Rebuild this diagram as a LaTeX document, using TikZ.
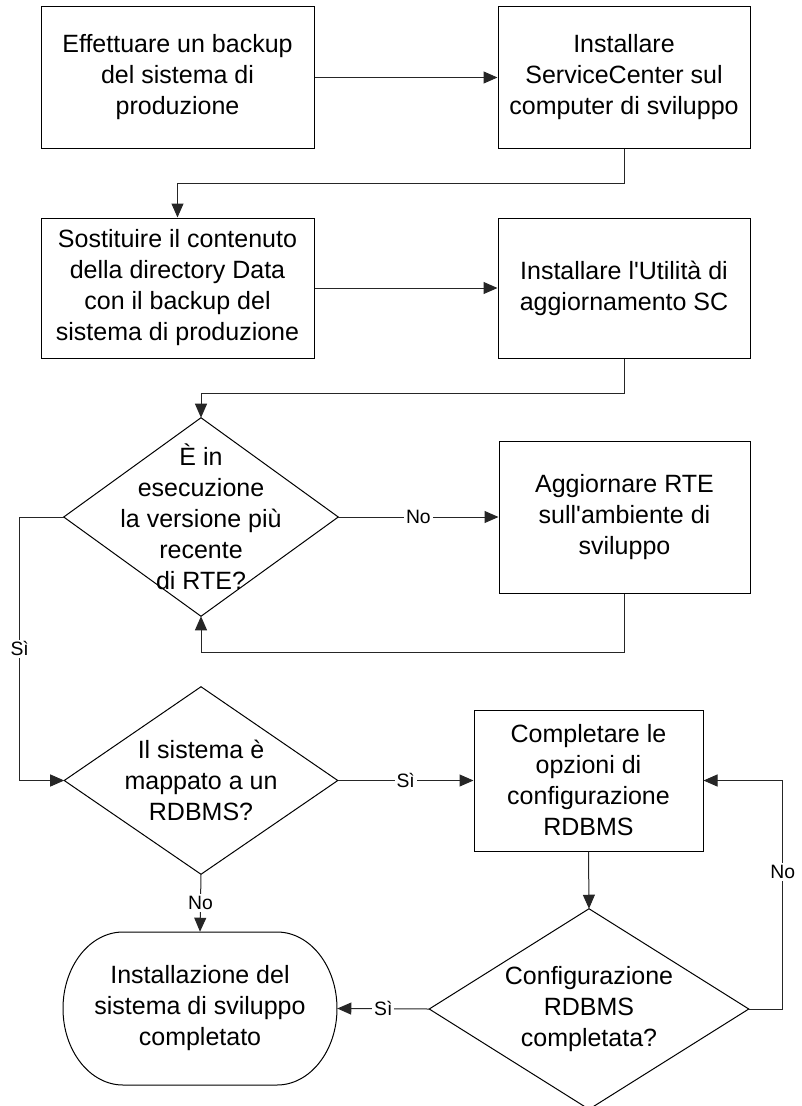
\documentclass[tikz,border=0pt]{standalone}
\usepackage{fontspec}
\setmainfont{Liberation Sans}
\usetikzlibrary{arrows.meta}
\newcommand{\pu}{0.75pt}
\tikzset{
  base/.style={inner sep=0pt, align=center, font=\fontsize{18.75pt}{23.25pt}\selectfont},
  boxnode/.style={base, draw=black, line width=0.75pt, rectangle},
  hidden/.style={base, rectangle},
  conn/.style={line width=0.75pt, draw=black!85},
  arr/.style={conn, -{Triangle[length=10.5pt, width=9pt]}},
  lbl/.style={fill=white, inner sep=1.5pt, font=\fontsize{14.5pt}{17pt}\selectfont},
  shapeline/.style={line width=0.75pt, draw=black}
}
\begin{document}
\begin{tikzpicture}[x=0.75pt, y=-0.75pt]
\useasboundingbox (0,0) rectangle (801,1106);

% process boxes
\node[boxnode, minimum width=273*\pu, minimum height=141*\pu] (b1) at (177.5,77.5)
  {Effettuare un backup\\del sistema di\\produzione};
\node[boxnode, minimum width=252*\pu, minimum height=141*\pu] (b2) at (624,77.5)
  {Installare\\ServiceCenter sul\\computer di sviluppo};
\node[boxnode, minimum width=273*\pu, minimum height=140*\pu] (b3) at (177.5,288)
  {Sostituire il contenuto\\della directory Data\\con il backup del\\sistema di produzione};
\node[boxnode, minimum width=252*\pu, minimum height=140*\pu] (b4) at (624,288)
  {Installare l\textquotesingle Utilità di\\aggiornamento SC};
\node[boxnode, minimum width=251*\pu, minimum height=152*\pu] (b5) at (624.5,517)
  {Aggiornare RTE\\sull\textquotesingle ambiente di\\sviluppo};
\node[boxnode, minimum width=229*\pu, minimum height=141*\pu] (b6) at (588.5,780.5)
  {Completare le\\opzioni di\\configurazione\\RDBMS};

% decisions (text nodes sized to diamond bounding boxes)
\node[hidden, minimum width=274*\pu, minimum height=198*\pu] (d1) at (201,517)
  {È in\\esecuzione\\la versione più\\recente\\di RTE?};
\node[hidden, minimum width=273*\pu, minimum height=187*\pu] (d2) at (201,780.5)
  {Il sistema è\\mappato a un\\RDBMS?};
\node[hidden, minimum width=319*\pu, minimum height=200*\pu] (d3) at (589,1009)
  {Configurazione\\RDBMS\\completata?};
\foreach \d in {d1,d2,d3}
  \draw[shapeline] (\d.north) -- (\d.east) -- (\d.south) -- (\d.west) -- cycle;

% terminal
\node[hidden, minimum width=274*\pu, minimum height=153*\pu] (term) at (200,1008.5)
  {Installazione del\\sistema di sviluppo\\completato};
\draw[shapeline] (123,932) -- (277,932)
  .. controls (310.1,932) and (337,966.25) .. (337,1008.5)
  .. controls (337,1050.75) and (310.1,1085) .. (277,1085)
  -- (123,1085)
  .. controls (89.9,1085) and (63,1050.75) .. (63,1008.5)
  .. controls (63,966.25) and (89.9,932) .. (123,932) -- cycle;

% connectors
\draw[arr] (b1.east) -- (b2.west);
\draw[arr] (b2.south) -- ++(0,35) -| (b3.north);
\draw[arr] (b3.east) -- (b4.west);
\draw[arr] (b4.south) -- ++(0,35) -| (d1.north);
\draw[arr] (d1.east) -- node[lbl, midway] {No} (b5.west);
\draw[arr] (b5.south) -- ++(0,59) -| (d1.south);
\draw[arr] (d1.west) -- ++(-44,0) |- node[lbl, pos=0.25] {Sì} (d2.west);
\draw[arr] (d2.east) -- node[lbl, midway] {Sì} (b6.west);
\draw[arr] (d2.south) -- node[lbl, midway] {No} (term.north);
\draw[arr] (b6.south) -- (d3.north);
\draw[arr] (d3.east) -- ++(34,0) -- node[lbl, pos=0.6] {No} ++(0,-228.5) -- (b6.east);
\draw[arr] (d3.west) -- node[lbl, midway] {Sì} (term.east);
\end{tikzpicture}
\end{document}
